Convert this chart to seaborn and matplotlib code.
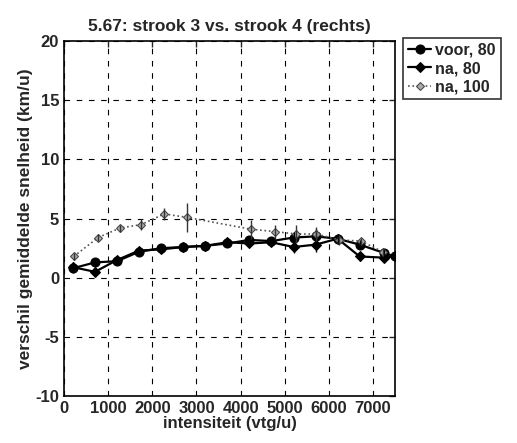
import numpy as np
import pandas as pd
import matplotlib
matplotlib.use("Agg")
import matplotlib.pyplot as plt
import seaborn as sns

# data
x_80 = [200, 700, 1200, 1700, 2200, 2700, 3200, 3700, 4200, 4700, 5200, 5700, 6200, 6700, 7250, 7500]
voor_80 = [0.8, 1.3, 1.4, 2.2, 2.5, 2.6, 2.7, 2.9, 3.2, 3.1, 3.4, 3.5, 3.3, 2.8, 2.1, 1.8]
na_80 = [0.9, 0.5, 1.5, 2.3, 2.4, 2.6, 2.7, 3.0, 2.9, 3.0, 2.6, 2.8, 3.3, 1.8, 1.7, 1.8]
err_80 = [0.4, 0.3, 0.3, 0.3, 0.2, 0.2, 0.2, 0.3, 0.3, 0.3, 0.5, 0.6, 0.4, 0.4, 0.3, 0.2]

x_100 = [220, 770, 1260, 1750, 2270, 2790, 4240, 4790, 5260, 5710, 6240, 6730, 7220]
na_100 = [1.8, 3.4, 4.2, 4.5, 5.4, 5.1, 4.1, 3.9, 3.7, 3.7, 3.2, 3.1, 2.2]
err_100 = [0.3, 0.3, 0.3, 0.5, 0.5, 1.2, 0.8, 0.6, 0.8, 0.6, 0.4, 0.3, 0.3]

sns.set_style("white")
plt.rcParams["font.family"] = ["Liberation Sans", "DejaVu Sans"]
plt.rcParams["font.weight"] = "bold"
plt.rcParams["axes.unicode_minus"] = False

fig = plt.figure(figsize=(5.17, 4.43), dpi=100)
ax = fig.add_axes([0.124, 0.106, 0.640, 0.801])

df_voor = pd.DataFrame({"x": x_80, "y": voor_80})
df_na = pd.DataFrame({"x": x_80, "y": na_80})
df_100 = pd.DataFrame({"x": x_100, "y": na_100})

sns.lineplot(data=df_voor, x="x", y="y", ax=ax, color="black", lw=1.6,
             marker="o", markersize=6.5, markeredgecolor="black", label="voor, 80")
sns.lineplot(data=df_na, x="x", y="y", ax=ax, color="black", lw=1.6,
             marker="D", markersize=5.5, markeredgecolor="black", label="na, 80")
sns.lineplot(data=df_100, x="x", y="y", ax=ax, color="#555555", lw=1.2, ls=":",
             marker="D", markersize=4.5, markerfacecolor="#aaaaaa",
             markeredgecolor="#444444", label="na, 100")

ax.errorbar(x_80, voor_80, yerr=err_80, fmt="none", ecolor="black", elinewidth=1)
ax.errorbar(x_80, na_80, yerr=err_80, fmt="none", ecolor="black", elinewidth=1)
ax.errorbar(x_100, na_100, yerr=err_100, fmt="none", ecolor="#333333", elinewidth=1)

ax.set_xlim(0, 7500)
ax.set_ylim(-10, 20)
ax.set_xticks(np.arange(0, 7001, 1000))
ax.set_yticks(np.arange(-10, 21, 5))
ax.grid(True, color="black", ls=(0, (5, 6)), lw=0.8)
ax.tick_params(direction="in", top=True, right=True, length=4, labelsize=12, width=1)
for s in ax.spines.values():
    s.set_color("black")
    s.set_linewidth(1.2)

ax.set_title("5.67: strook 3 vs. strook 4 (rechts)", fontsize=12.5, fontweight="bold", pad=7)
ax.set_xlabel("intensiteit (vtg/u)", fontsize=12, fontweight="bold", labelpad=0)
ax.set_ylabel("verschil gemiddelde snelheid (km/u)", fontsize=12.5, fontweight="bold", labelpad=2)

leg = ax.legend(loc="upper left", bbox_to_anchor=(0.779, 0.914), bbox_transform=fig.transFigure,
                fontsize=11.5, frameon=True, fancybox=False, edgecolor="black",
                handlelength=1.5, handletextpad=0.25, borderpad=0.3, labelspacing=0.2,
                borderaxespad=0)
leg.get_frame().set_linewidth(1.2)

fig.savefig("out.png", dpi=100)
